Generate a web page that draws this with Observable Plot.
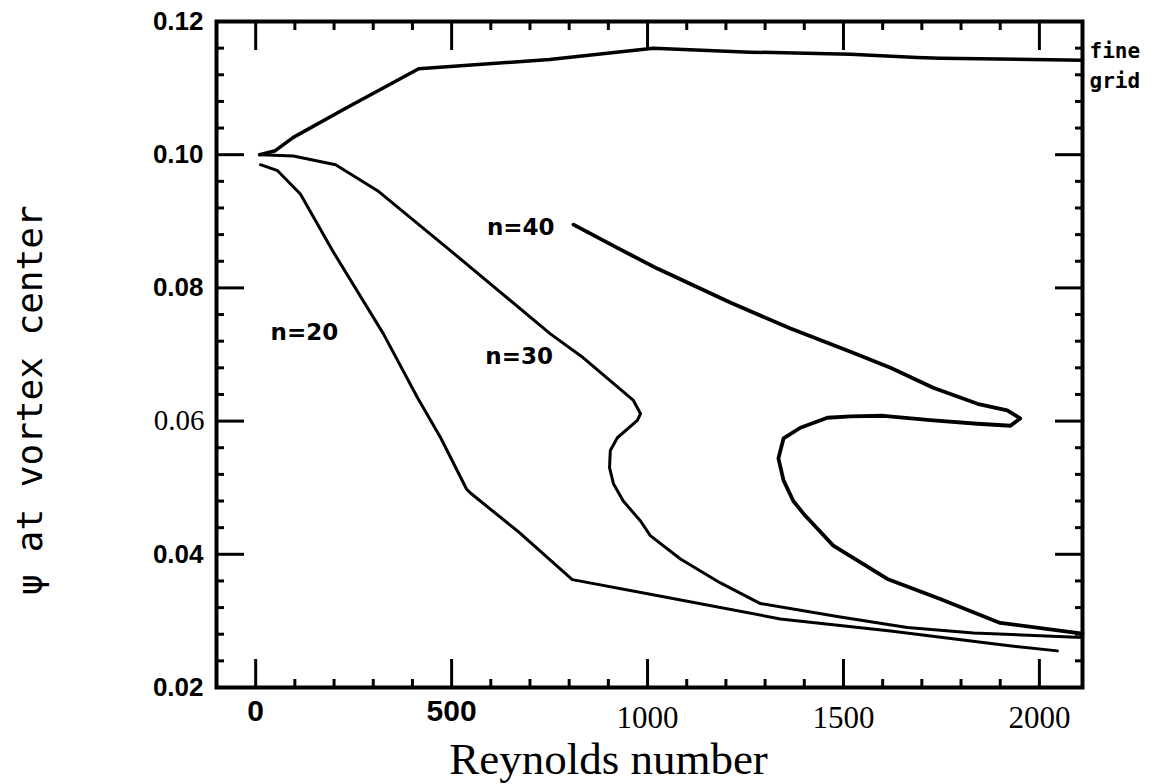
<!DOCTYPE html>
<html>
<head>
<meta charset="utf-8">
<script src="https://cdn.jsdelivr.net/npm/d3@7"></script>
<script src="https://cdn.jsdelivr.net/npm/@observablehq/plot@0.6"></script>
<style>
  body { margin: 0; background: #fff; }
  #chart svg { display: block; }
</style>
</head>
<body>
<div id="chart"></div>
<script>
// Stream function at the vortex center versus Reynolds number, for three mesh sizes
// and the fine-grid reference solution.
const fineRe  = [10, 50, 96, 224, 416, 750, 1015, 1262, 1518, 1688, 1747, 2110];
const finePsi = [0.1000, 0.1006, 0.1026, 0.1068, 0.1129, 0.1143, 0.1160, 0.1154, 0.1151, 0.1146, 0.1145, 0.1142];

const n20Re  = [12, 56, 114, 196, 326, 413, 472, 538, 548, 668, 808, 1007, 1339, 1620, 1918, 2046];
const n20Psi = [0.0985, 0.0976, 0.0941, 0.0856, 0.0731, 0.0635, 0.0575, 0.0498, 0.0492, 0.0435, 0.0362, 0.0340, 0.0303, 0.0285, 0.0263, 0.0255];

const n30Re  = [12, 96, 204, 311, 497, 752, 836, 964, 982, 974, 923, 905, 903, 913, 938, 982, 1007, 1084, 1186, 1288, 1492, 1663, 1832, 2110];
const n30Psi = [0.1000, 0.0998, 0.0985, 0.0946, 0.0856, 0.0731, 0.0695, 0.0631, 0.0611, 0.0601, 0.0575, 0.0556, 0.0530, 0.0506, 0.0480, 0.0450, 0.0428, 0.0393, 0.0357, 0.0326, 0.0306, 0.0290, 0.0282, 0.0275];

const n40Re  = [811, 923, 1025, 1211, 1365, 1518, 1620, 1729, 1842, 1918, 1951, 1926, 1842, 1729, 1602, 1518, 1459, 1390, 1347, 1334, 1347, 1372, 1398, 1474, 1612, 1747, 1900, 2110];
const n40Psi = [0.0895, 0.0860, 0.0829, 0.0778, 0.0739, 0.0704, 0.0680, 0.0650, 0.0626, 0.0616, 0.0604, 0.0593, 0.0596, 0.0601, 0.0608, 0.0607, 0.0605, 0.0590, 0.0574, 0.0544, 0.0511, 0.0480, 0.0461, 0.0413, 0.0363, 0.0333, 0.0297, 0.0281];

// Curve labels, anchored in data space
const labelText = ["n=20", "n=30", "n=40"];
const labelRe   = [38, 586, 590];
const labelPsi  = [0.0733, 0.0697, 0.0890];
const fineLabel = "fine\ngrid";
const fineLabelPsi = 0.1137;

// Axis ticks and tick labels
const xDomain = [-100, 2110];
const yDomain = [0.02, 0.12];
const xMajor = [0, 500, 1000, 1500, 2000];
const xMinor = [100, 200, 300, 400, 600, 700, 800, 900, 1100, 1200, 1300, 1400, 1600, 1700, 1800, 1900];
const yMajor = [0.04, 0.06, 0.08, 0.10];
const yMinor = [0.024, 0.028, 0.032, 0.036, 0.044, 0.048, 0.052, 0.056, 0.064, 0.068, 0.072, 0.076,
                0.084, 0.088, 0.092, 0.096, 0.104, 0.108, 0.112, 0.116];
const xSansLabels  = [0, 500];
const xSerifLabels = [1000, 1500, 2000];
const ySansLabels  = [0.02, 0.04, 0.08, 0.10, 0.12];
const ySerifLabels = [0.06];

const xTitle = "Reynolds number";
const yTitle = "\u03c8 at vortex center";

const toRows = (re, psi) => re.map((r, i) => ({Re: r, psi: psi[i]}));
const fine = toRows(fineRe, finePsi);
const n20 = toRows(n20Re, n20Psi);
const n30 = toRows(n30Re, n30Psi);
const n40 = toRows(n40Re, n40Psi);
const labels = labelText.map((t, i) => ({text: t, Re: labelRe[i], psi: labelPsi[i]}));

const fmtY = d3.format(".2f");
const sans = "Liberation Sans, Arial, sans-serif";
const serif = "Liberation Serif, Times New Roman, serif";
const mono = "DejaVu Sans Mono, monospace";

const inward = (anchor, ticks, size) =>
  (anchor === "left" || anchor === "right" ? Plot.axisY : Plot.axisX)(ticks, {
    anchor, tickSize: -size, strokeWidth: 3, fill: "none", label: null
  });

const chart = Plot.plot({
  width: 1163,
  height: 784,
  marginLeft: 216,
  marginRight: 81,
  marginTop: 21,
  marginBottom: 97,
  style: {background: "white", color: "black"},
  x: {domain: xDomain, label: null},
  y: {domain: yDomain, label: null},
  marks: [
    // tick marks on all four sides, pointing inward
    inward("bottom", xMajor, 28),
    inward("bottom", xMinor, 8),
    inward("top", xMajor, 28),
    inward("top", xMinor, 8),
    inward("left", yMajor, 28),
    inward("left", yMinor, 8),
    inward("right", yMajor, 28),
    inward("right", yMinor, 8),

    // tick labels
    Plot.axisX(xSansLabels, {anchor: "bottom", tickSize: 0, tickPadding: 12, label: null,
      fontFamily: sans, fontWeight: "bold", fontSize: 30, tickFormat: d3.format("d")}),
    Plot.axisX(xSerifLabels, {anchor: "bottom", tickSize: 0, tickPadding: 18, label: null,
      fontFamily: serif, fontSize: 31, tickFormat: d3.format("d")}),
    Plot.axisY(ySansLabels, {anchor: "left", tickSize: 0, tickPadding: 13, label: null,
      fontFamily: sans, fontWeight: "bold", fontSize: 26, tickFormat: fmtY}),
    Plot.axisY(ySerifLabels, {anchor: "left", tickSize: 0, tickPadding: 12, label: null,
      fontFamily: serif, fontSize: 29, tickFormat: fmtY}),

    Plot.frame({stroke: "black", strokeWidth: 4}),

    // curves
    Plot.line(fine, {x: "Re", y: "psi", stroke: "black", strokeWidth: 3.5, strokeLinejoin: "round"}),
    Plot.line(n20, {x: "Re", y: "psi", stroke: "black", strokeWidth: 3, strokeLinejoin: "round"}),
    Plot.line(n30, {x: "Re", y: "psi", stroke: "black", strokeWidth: 3, strokeLinejoin: "round"}),
    Plot.line(n40, {x: "Re", y: "psi", stroke: "black", strokeWidth: 3.8, strokeLinejoin: "round"}),

    // curve labels
    Plot.text(labels, {x: "Re", y: "psi", text: "text", textAnchor: "start",
      fontFamily: "DejaVu Sans, sans-serif", fontWeight: "bold", fontSize: 23, fill: "black"}),
    Plot.text([fineLabel], {x: xDomain[1], y: fineLabelPsi, text: d => d, textAnchor: "start",
      dx: 7, lineHeight: 1.4, fontFamily: mono, fontWeight: "bold", fontSize: 21, fill: "black"}),

    // axis titles
    Plot.text([xTitle], {frameAnchor: "bottom", text: d => d, textAnchor: "middle", lineAnchor: "middle",
      dx: -41, dy: 72, fontFamily: serif, fontSize: 45, fill: "black"}),
    Plot.text([yTitle], {frameAnchor: "left", text: d => d, rotate: -90, textAnchor: "middle", lineAnchor: "middle",
      dx: -186, dy: 46, fontFamily: mono, fontSize: 36, fill: "black"})
  ]
});

document.getElementById("chart").append(chart);
</script>
</body>
</html>
